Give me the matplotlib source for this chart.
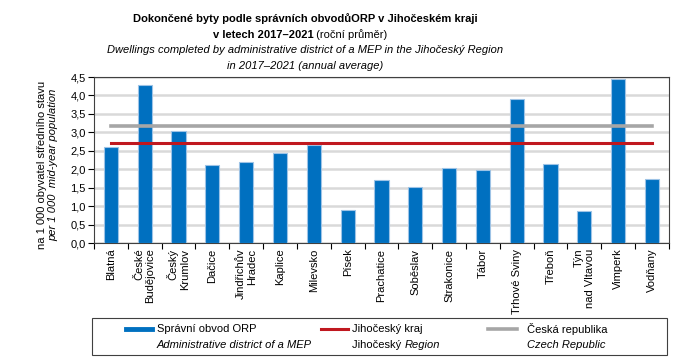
import numpy as np
import matplotlib
matplotlib.use("Agg")
import matplotlib.pyplot as plt
from matplotlib.lines import Line2D
from matplotlib.patches import Rectangle

plt.rcParams['font.family'] = ['Liberation Sans', 'DejaVu Sans']

districts = ["Blatná", "České\nBudějovice", "Český\nKrumlov", "Dačice", "Jindřichův\nHradec",
             "Kaplice", "Milevsko", "Písek", "Prachatice", "Soběslav", "Strakonice", "Tábor",
             "Trhové Sviny", "Třeboň", "Týn\nnad Vltavou", "Vimperk", "Vodňany"]
orp_values = [2.60, 4.28, 3.03, 2.12, 2.20, 2.44, 2.67, 0.90, 1.71, 1.52, 2.04, 1.97,
              3.90, 2.13, 0.86, 4.44, 1.73]
region_value = 2.70
czech_value = 3.17
yticks = [0.0, 0.5, 1.0, 1.5, 2.0, 2.5, 3.0, 3.5, 4.0, 4.5]

blue = '#0070C0'
red = '#C0181F'
grey = '#A6A6A6'

fig = plt.figure(figsize=(6.99, 3.59), dpi=100)
ax = fig.add_axes([0.1345, 0.323, 0.8225, 0.4625])

x = np.arange(len(districts))
ax.bar(x, orp_values, width=0.42, color=blue, edgecolor='#9DC3E6', linewidth=0.8, zorder=3)
ax.plot([x[0], x[-1]], [czech_value, czech_value], color=grey, lw=2.6, zorder=4)
ax.plot([x[0], x[-1]], [region_value, region_value], color=red, lw=2.2, zorder=5)

ax.set_xlim(-0.5, len(districts) - 0.5)
ax.set_ylim(0, 4.5)
ax.set_yticks(yticks)
ax.set_yticklabels([f"{v:.1f}".replace('.', ',') for v in yticks], fontsize=8)
ax.yaxis.grid(True, color='#D9D9D9', lw=1.8, zorder=0)
ax.set_axisbelow(True)

ax.set_xticks(np.arange(-0.5, len(districts), 1.0), minor=False)
ax.set_xticklabels([])
ax.set_xticks(x, minor=True)
ax.set_xticklabels(districts, minor=True, rotation=90, fontsize=8,
                   va='top', ha='center', multialignment='right')
ax.tick_params(axis='x', which='minor', length=0, pad=4)
ax.tick_params(axis='x', which='major', length=4, direction='out', color='black')
ax.tick_params(axis='y', length=4, direction='out', pad=2)
for s in ax.spines.values():
    s.set_color('#404040')
    s.set_linewidth(0.8)

# title
tx = 305 / 699
fig.text(tx, 1 - 19 / 359, "Dokončené byty podle správních obvodůORP v Jihočeském kraji",
         ha='center', va='center', fontsize=8, fontweight='bold')
fig.text(tx + 0.012, 1 - 35 / 359, "v letech 2017–2021", ha='right', va='center',
         fontsize=8, fontweight='bold')
fig.text(tx + 0.012, 1 - 35 / 359, " (roční průměr)", ha='left', va='center', fontsize=8)
fig.text(tx, 1 - 50 / 359, "Dwellings completed by administrative district of a MEP in the Jihočeský Region",
         ha='center', va='center', fontsize=8, style='italic')
fig.text(tx, 1 - 66 / 359, "in 2017–2021 (annual average)", ha='center', va='center',
         fontsize=8, style='italic')

# y label
fig.text(42 / 699, 1 - 165 / 359, "na 1 000 obyvatel středního stavu", rotation=90,
         ha='center', va='center', fontsize=8)
fig.text(53 / 699, 1 - 165 / 359, "per 1 000  mid-year population", rotation=90,
         ha='center', va='center', fontsize=8, style='italic')

# legend
fig.patches.append(Rectangle((92 / 699, 1 - 355 / 359), 575 / 699, 37 / 359,
                             transform=fig.transFigure, fill=False, edgecolor='#404040', lw=0.8))
ly1 = 1 - 329 / 359
ly2 = 1 - 345 / 359
fig.add_artist(Line2D([126 / 699, 152 / 699], [ly1, ly1], color=blue, lw=3.5, transform=fig.transFigure))
fig.add_artist(Line2D([321 / 699, 348 / 699], [ly1, ly1], color=red, lw=2.2, transform=fig.transFigure))
fig.add_artist(Line2D([488 / 699, 517 / 699], [ly1, ly1], color=grey, lw=2.6, transform=fig.transFigure))
fig.text(157 / 699, ly1, "Správní obvod ORP", va='center', fontsize=8)
fig.text(157 / 699, ly2, "Administrative district of a MEP", va='center', fontsize=8, style='italic')
fig.text(352 / 699, ly1, "Jihočeský kraj", va='center', fontsize=8)
t = fig.text(352 / 699, ly2, "Jihočeský ", va='center', fontsize=8)
ax.annotate("Region", xy=(1, 0.5), xycoords=t, va='center', ha='left',
            fontsize=8, style='italic', annotation_clip=False)
fig.text(527 / 699, ly1, "Česká republika", va='center', fontsize=8)
fig.text(527 / 699, ly2, "Czech Republic", va='center', fontsize=8, style='italic')

fig.savefig("out.png", dpi=100)
